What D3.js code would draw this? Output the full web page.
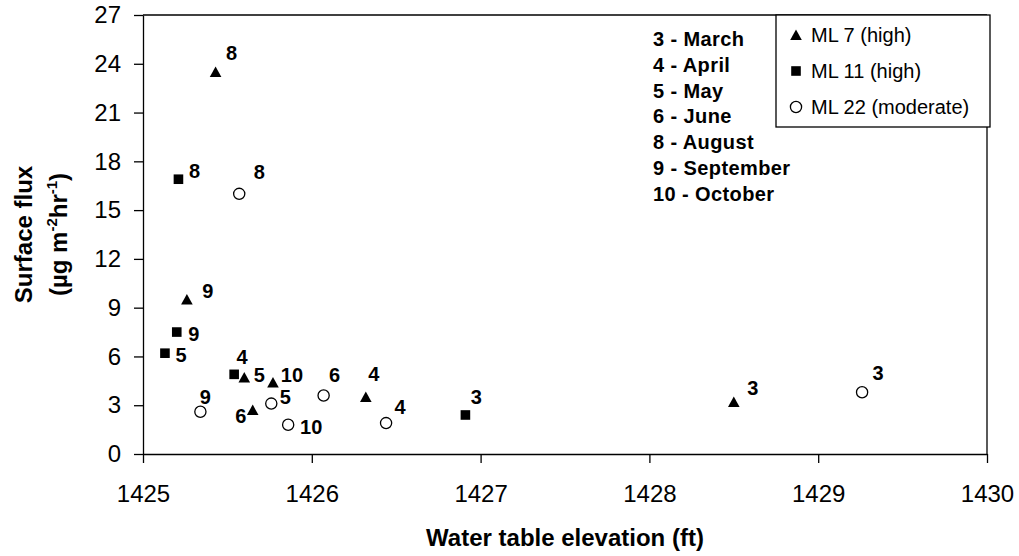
<!DOCTYPE html>
<html>
<head>
<meta charset="utf-8">
<script src="https://cdn.jsdelivr.net/npm/d3@7"></script>
<style>
  body { margin: 0; background: #fff; }
  svg { font-family: Arial, "Liberation Sans", sans-serif; }
  .axis path, .axis line { stroke: #000; stroke-width: 1.3px; }
  .axis text { font-size: 24px; fill: #000; }
  .pt-label { font-size: 20px; font-weight: bold; }
  .month-text { font-size: 20px; font-weight: bold; letter-spacing: 0.4px; }
  .legend-text { font-size: 20px; }
</style>
</head>
<body>
<div id="chart"></div>
<script>

// data
var monthKey = ["3 - March", "4 - April", "5 - May", "6 - June", "8 - August", "9 - September", "10 - October"];

var ml7Elev  = [1425.43, 1425.26, 1425.60, 1425.77, 1425.65, 1426.32, 1428.50];
var ml7Flux  = [23.5, 9.5, 4.7, 4.4, 2.7, 3.5, 3.2];
var ml7Month = ["8", "9", "5", "10", "6", "4", "3"];

var ml11Elev  = [1425.21, 1425.20, 1425.13, 1425.54, 1426.91];
var ml11Flux  = [16.9, 7.5, 6.2, 4.9, 2.4];
var ml11Month = ["8", "9", "5", "4", "3"];

var ml22Elev  = [1425.57, 1425.34, 1425.76, 1425.86, 1426.07, 1426.44, 1429.26];
var ml22Flux  = [16.0, 2.6, 3.1, 1.8, 3.6, 1.9, 3.8];
var ml22Month = ["8", "9", "5", "10", "6", "4", "3"];

var xTicks = [1425, 1426, 1427, 1428, 1429, 1430];
var yTicks = [0, 3, 6, 9, 12, 15, 18, 21, 24, 27];

var seriesNames = ["ML 7 (high)", "ML 11 (high)", "ML 22 (moderate)"];

// where each month label sits relative to its marker (px)
var ml7LabelOff  = [[16, -19], [21, -9], [15, -3], [19, -8], [-12, 6], [8, -23], [19, -14]];
var ml11LabelOff = [[16, -8], [17, 2], [16, 2], [8, -18], [11, -18]];
var ml22LabelOff = [[20, -22], [5, -15], [14, -7], [23, 2], [11, -21], [14, -16], [16, -19]];


ScatterChart = function(_parentElement, _w, _h){
	this.parentElement = _parentElement;
	this.w = _w;
	this.h = _h;
	this.initVis();
}

ScatterChart.prototype.initVis = function(){
	var vis = this;

	vis.margin = { top: 15, right: 32, bottom: 102, left: 143 };
	vis.width = vis.w - vis.margin.left - vis.margin.right;
	vis.height = vis.h - vis.margin.top - vis.margin.bottom;

	vis.svg = d3.select("#" + vis.parentElement)
		.append("svg")
			.attr("width", vis.w)
			.attr("height", vis.h)
		.append("g")
			.attr("transform", "translate(" + vis.margin.left + "," + vis.margin.top + ")");

	vis.x = d3.scaleLinear().domain([1425, 1430]).range([0, vis.width]);
	vis.y = d3.scaleLinear().domain([0, 27]).range([vis.height, 0]);

	// frame (top and right)
	vis.svg.append("line")
		.attr("x1", 0).attr("x2", vis.width).attr("y1", 0).attr("y2", 0)
		.attr("stroke", "#000").attr("stroke-width", 1.3);
	vis.svg.append("line")
		.attr("x1", vis.width).attr("x2", vis.width).attr("y1", 0).attr("y2", vis.height)
		.attr("stroke", "#000").attr("stroke-width", 1.3);

	vis.xAxis = d3.axisBottom(vis.x).tickValues(xTicks).tickFormat(d3.format("d"))
		.tickSizeInner(9).tickSizeOuter(0).tickPadding(22);
	vis.yAxis = d3.axisLeft(vis.y).tickValues(yTicks)
		.tickSizeInner(9).tickSizeOuter(0).tickPadding(13);

	vis.svg.append("g")
		.attr("class", "x-axis axis")
		.attr("transform", "translate(0," + vis.height + ")")
		.call(vis.xAxis);
	vis.svg.append("g")
		.attr("class", "y-axis axis")
		.call(vis.yAxis);

	vis.svg.selectAll(".x-axis text").attr("dy", "0.35em").attr("y", 40);

	// axis titles
	vis.svg.append("text")
		.attr("x", vis.width / 2)
		.attr("y", vis.height + 92)
		.attr("text-anchor", "middle")
		.attr("font-size", 24).attr("font-weight", "bold")
		.text("Water table elevation (ft)");

	var yt = vis.svg.append("g")
		.attr("transform", "translate(" + (-vis.margin.left) + "," + (vis.height / 2) + ")");
	yt.append("text")
		.attr("transform", "translate(32,0) rotate(-90)")
		.attr("text-anchor", "middle")
		.attr("font-size", 24).attr("font-weight", "bold")
		.text("Surface flux");
	var t2 = yt.append("text")
		.attr("transform", "translate(67,0) rotate(-90)")
		.attr("text-anchor", "middle")
		.attr("font-size", 24).attr("font-weight", "bold");
	t2.append("tspan").text("(\u00b5g m");
	t2.append("tspan").attr("font-size", 15).attr("dy", -10).text("-2");
	t2.append("tspan").attr("dy", 10).text("hr");
	t2.append("tspan").attr("font-size", 15).attr("dy", -10).text("-1");
	t2.append("tspan").attr("dy", 10).text(")");

	vis.updateVis();
}

ScatterChart.prototype.updateVis = function(){
	var vis = this;

	var tri = "M0,-5.5L5.8,5L-5.8,5Z";

	var sets = [
		{ xs: ml7Elev, ys: ml7Flux, labels: ml7Month, off: ml7LabelOff, shape: "tri" },
		{ xs: ml11Elev, ys: ml11Flux, labels: ml11Month, off: ml11LabelOff, shape: "sq" },
		{ xs: ml22Elev, ys: ml22Flux, labels: ml22Month, off: ml22LabelOff, shape: "circ" }
	];

	sets.forEach(function(s, si){
		var pts = s.xs.map(function(v, i){
			return { x: v, y: s.ys[i], m: s.labels[i], off: s.off[i] };
		});

		var g = vis.svg.append("g").attr("class", "series-" + si);

		if (s.shape == "tri") {
			g.selectAll("path").data(pts).enter().append("path")
				.attr("d", tri)
				.attr("transform", function(d){ return "translate(" + vis.x(d.x) + "," + vis.y(d.y) + ")"; })
				.attr("fill", "#000");
		} else if (s.shape == "sq") {
			g.selectAll("rect").data(pts).enter().append("rect")
				.attr("x", function(d){ return vis.x(d.x) - 4.8; })
				.attr("y", function(d){ return vis.y(d.y) - 4.8; })
				.attr("width", 9.6).attr("height", 9.6)
				.attr("fill", "#000");
		} else {
			g.selectAll("circle").data(pts).enter().append("circle")
				.attr("cx", function(d){ return vis.x(d.x); })
				.attr("cy", function(d){ return vis.y(d.y); })
				.attr("r", 5.6)
				.attr("fill", "#fff").attr("stroke", "#000").attr("stroke-width", 1.3);
		}

		g.selectAll(".pt-label").data(pts).enter().append("text")
			.attr("class", "pt-label")
			.attr("x", function(d){ return vis.x(d.x) + d.off[0]; })
			.attr("y", function(d){ return vis.y(d.y) + d.off[1]; })
			.attr("dy", "0.36em")
			.attr("text-anchor", "middle")
			.text(function(d){ return d.m; });
	});

	// month key
	vis.svg.selectAll(".month-text").data(monthKey).enter().append("text")
		.attr("class", "month-text")
		.attr("x", 510)
		.attr("y", function(d, i){ return 31 + i * 25.8; })
		.text(function(d){ return d; });

	// series legend box
	var lg = vis.svg.append("g").attr("transform", "translate(633,0)");
	lg.append("rect")
		.attr("x", 0).attr("y", 0).attr("width", 214).attr("height", 112)
		.attr("fill", "#fff").attr("stroke", "#000").attr("stroke-width", 1.3);

	var rows = lg.selectAll(".legend-row").data(seriesNames).enter().append("g")
		.attr("class", "legend-row")
		.attr("transform", function(d, i){ return "translate(20," + (20 + i * 36) + ")"; });

	rows.each(function(d, i){
		var r = d3.select(this);
		if (i == 0) r.append("path").attr("d", tri).attr("fill", "#000");
		else if (i == 1) r.append("rect").attr("x", -4.8).attr("y", -4.8).attr("width", 9.6).attr("height", 9.6).attr("fill", "#000");
		else r.append("circle").attr("r", 5.6).attr("fill", "#fff").attr("stroke", "#000").attr("stroke-width", 1.3);
	});
	rows.append("text")
		.attr("class", "legend-text")
		.attr("x", 15)
		.attr("dy", "0.36em")
		.text(function(d){ return d; });
}

new ScatterChart("chart", 1019, 556);

</script>
</body>
</html>
